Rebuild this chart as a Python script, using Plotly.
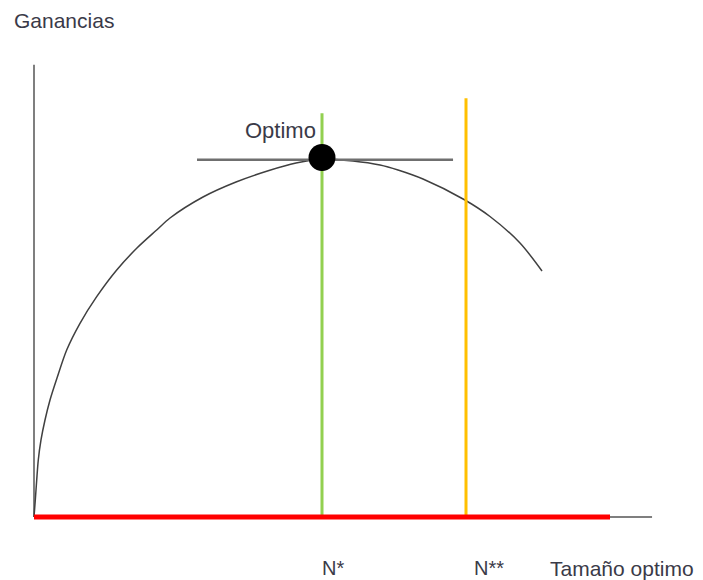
import plotly.graph_objects as go

# Profit curve (Ganancias vs Tamaño)
curve_x = [0, 0.45, 0.94, 1.49, 2.43, 3.82, 5.56, 7.99, 11.35, 15.97, 21.77, 28.72,
           35.66, 42.60, 47.22, 58.68, 70.14, 81.60, 90.97, 100, 110.76, 120.14,
           126.39, 135.07, 149.31, 158.33, 168.75, 176.39]
curve_y = [0, 4.75, 10.34, 15.92, 21.51, 27.09, 32.68, 38.83, 46.65, 54.11, 61.54, 68.99,
           75.06, 80.17, 83.52, 89.39, 93.58, 96.79, 98.88, 100, 99.44, 98.32,
           96.93, 94.41, 88.69, 83.94, 76.54, 68.72]

optimo_x = [100]
optimo_y = [100.4]
tangent_x = [56.6, 145.5]
tangent_y = [99.8, 99.8]
n_star = 100
n_star_top = 112.8
n_star2 = 150
n_star2_top = 117
red_x = [0, 200]
xaxis_end = 214.6
yaxis_top = 126.3

labels = {"y": "Ganancias", "opt": "Optimo", "n1": "N*", "n2": "N**", "x": "Tamaño optimo"}

fig = go.Figure()
# axes
fig.add_trace(go.Scatter(x=[0, 0], y=[0, yaxis_top], mode="lines",
                         line=dict(color="#7f7f7f", width=2), hoverinfo="skip"))
fig.add_trace(go.Scatter(x=[0, xaxis_end], y=[0, 0], mode="lines",
                         line=dict(color="#7f7f7f", width=2), hoverinfo="skip"))
# curve
fig.add_trace(go.Scatter(x=curve_x, y=curve_y, mode="lines",
                         line=dict(color="#404040", width=1.5, shape="spline", smoothing=0.8)))
# tangent
fig.add_trace(go.Scatter(x=tangent_x, y=tangent_y, mode="lines",
                         line=dict(color="#6f6f6f", width=2.5)))
# N* and N**
fig.add_trace(go.Scatter(x=[n_star, n_star], y=[0, n_star_top], mode="lines",
                         line=dict(color="#92D050", width=3)))
fig.add_trace(go.Scatter(x=[n_star2, n_star2], y=[0, n_star2_top], mode="lines",
                         line=dict(color="#FFC000", width=3)))
# red base
fig.add_trace(go.Scatter(x=red_x, y=[0, 0], mode="lines",
                         line=dict(color="#FF0000", width=5)))
# optimum point
fig.add_trace(go.Scatter(x=optimo_x, y=optimo_y, mode="markers",
                         marker=dict(color="black", size=27)))

font = dict(family="Liberation Sans, Arial, sans-serif", size=20, color="#3a3a48")
fig.add_annotation(x=-7.64, y=138.8, text=labels["y"], showarrow=False,
                   xanchor="left", yanchor="middle", font=dict(font, size=21))
fig.add_annotation(x=98.6, y=108.1, text=labels["opt"], showarrow=False,
                   xanchor="right", yanchor="middle", font=dict(font, size=22))
fig.add_annotation(x=99.3, y=-14.3, text=labels["n1"], showarrow=False,
                   xanchor="left", yanchor="middle", font=font)
fig.add_annotation(x=152.1, y=-14.3, text=labels["n2"], showarrow=False,
                   xanchor="left", yanchor="middle", font=font)
fig.add_annotation(x=178.5, y=-14.3, text=labels["x"], showarrow=False,
                   xanchor="left", yanchor="middle", font=dict(font, size=21))

fig.update_layout(
    width=703, height=580, margin=dict(l=0, r=0, t=0, b=0),
    paper_bgcolor="white", plot_bgcolor="white", showlegend=False,
    xaxis=dict(range=[-11.806, 232.29], visible=False, fixedrange=True),
    yaxis=dict(range=[-17.598, 144.413], visible=False, fixedrange=True),
)
fig.write_html("out.html", config={"displayModeBar": False},
               post_script="document.body.style.margin='0';document.body.style.overflow='hidden';")
